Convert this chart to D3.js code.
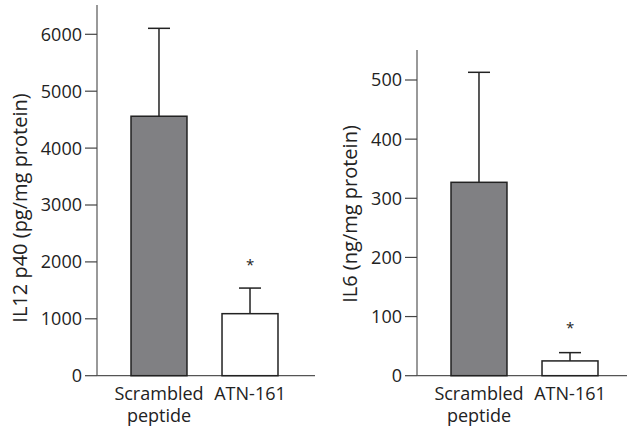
<!DOCTYPE html>
<html>
<head>
<meta charset="utf-8">
<script src="https://cdn.jsdelivr.net/npm/d3@7"></script>
<style>
  body { margin: 0; background: #fff; }
  text { font-family: "Open Sans", "DejaVu Sans", sans-serif; fill: #222; }
</style>
</head>
<body>
<div id="my_dataviz"></div>
<script>
// data
var groups = ["Scrambled peptide", "ATN-161"];
var il12Means = [4560, 1090];
var il12Errors = [6105, 1540];   // top of error bar
var il6Means = [327, 25];
var il6Errors = [513, 39];
var il12Ticks = [0, 1000, 2000, 3000, 4000, 5000, 6000];
var il6Ticks = [0, 100, 200, 300, 400, 500];
var significant = [false, true];

var svg = d3.select("#my_dataviz")
  .append("svg")
    .attr("width", 627)
    .attr("height", 427);

var barColor = ["#808083", "#ffffff"];

// draws one panel: axis, bars, error bars, asterisks, labels
function drawPanel(opts) {
  var g = svg.append("g");

  var y = d3.scaleLinear()
    .domain([0, opts.max])
    .range([opts.baseY, opts.zeroTopY]);

  var x = d3.scaleBand()
    .domain(groups)
    .range([opts.left + 6.7, opts.left + 208.3])
    .paddingInner(0.385)
    .paddingOuter(0.3);

  // y axis line
  g.append("line")
    .attr("x1", opts.left).attr("x2", opts.left)
    .attr("y1", y(0)).attr("y2", opts.axisTop)
    .attr("stroke", "#555").attr("stroke-width", 1.2);
  // baseline
  g.append("line")
    .attr("x1", opts.left).attr("x2", opts.right)
    .attr("y1", y(0)).attr("y2", y(0))
    .attr("stroke", "#555").attr("stroke-width", 1.2);

  // ticks
  var ticks = g.selectAll("tick")
    .data(opts.ticks)
    .enter().append("g");
  ticks.append("line")
    .attr("x1", opts.left - 12).attr("x2", opts.left)
    .attr("y1", function(d) { return y(d); })
    .attr("y2", function(d) { return y(d); })
    .attr("stroke", "#444").attr("stroke-width", 1.2);
  ticks.append("text")
    .attr("x", opts.left - 15)
    .attr("y", function(d) { return y(d); })
    .attr("dy", "0.36em")
    .attr("text-anchor", "end")
    .style("font-size", "18px")
    .text(function(d) { return d; });

  // error bars
  g.selectAll("errLine")
    .data(groups)
    .enter().append("line")
      .attr("x1", function(d) { return x(d) + x.bandwidth() / 2; })
      .attr("x2", function(d) { return x(d) + x.bandwidth() / 2; })
      .attr("y1", function(d, i) { return y(opts.means[i]); })
      .attr("y2", function(d, i) { return y(opts.errors[i]); })
      .attr("stroke", "#222").attr("stroke-width", 1.5);
  g.selectAll("errCap")
    .data(groups)
    .enter().append("line")
      .attr("x1", function(d) { return x(d) + x.bandwidth() / 2 - 11; })
      .attr("x2", function(d) { return x(d) + x.bandwidth() / 2 + 11; })
      .attr("y1", function(d, i) { return y(opts.errors[i]); })
      .attr("y2", function(d, i) { return y(opts.errors[i]); })
      .attr("stroke", "#222").attr("stroke-width", 1.5);

  // bars
  g.selectAll("bar")
    .data(groups)
    .enter().append("rect")
      .attr("x", function(d) { return x(d); })
      .attr("width", x.bandwidth())
      .attr("y", function(d, i) { return y(opts.means[i]); })
      .attr("height", function(d, i) { return y(0) - y(opts.means[i]); })
      .attr("fill", function(d, i) { return barColor[i]; })
      .attr("stroke", "#222").attr("stroke-width", 1.5);

  // significance asterisks
  g.selectAll("star")
    .data(groups.filter(function(d, i) { return significant[i]; }))
    .enter().append("text")
      .attr("x", function(d) { return x(d) + x.bandwidth() / 2; })
      .attr("y", function(d) {
        var i = groups.indexOf(d);
        return y(opts.errors[i]) - opts.starGap;
      })
      .attr("text-anchor", "middle")
      .style("font-size", "15px")
      .text("*");

  // category labels
  groups.forEach(function(d) {
    var words = d.split(" ");
    var t = g.append("text")
      .attr("x", x(d) + x.bandwidth() / 2)
      .attr("y", y(0) + 24)
      .attr("text-anchor", "middle")
      .style("font-size", "18px");
    words.forEach(function(w, k) {
      t.append("tspan")
        .attr("x", x(d) + x.bandwidth() / 2)
        .attr("dy", k === 0 ? 0 : 22)
        .text(w);
    });
  });

  // y axis title
  g.append("text")
    .attr("transform", "translate(" + opts.titleX + "," + opts.titleY + ") rotate(-90)")
    .attr("text-anchor", "middle")
    .attr("dy", "0.36em")
    .style("font-size", "20px")
    .text(opts.title);
}

drawPanel({
  left: 97, right: 315, axisTop: 5,
  baseY: 375.7, zeroTopY: 34.3, max: 6000,
  ticks: il12Ticks, means: il12Means, errors: il12Errors,
  starGap: 18,
  title: "IL12 p40 (pg/mg protein)", titleX: 20, titleY: 208
});

drawPanel({
  left: 417, right: 627, axisTop: 50,
  baseY: 375.7, zeroTopY: 80, max: 500,
  ticks: il6Ticks, means: il6Means, errors: il6Errors,
  starGap: 20,
  title: "IL6 (ng/mg protein)", titleX: 350, titleY: 214
});
</script>
</body>
</html>
